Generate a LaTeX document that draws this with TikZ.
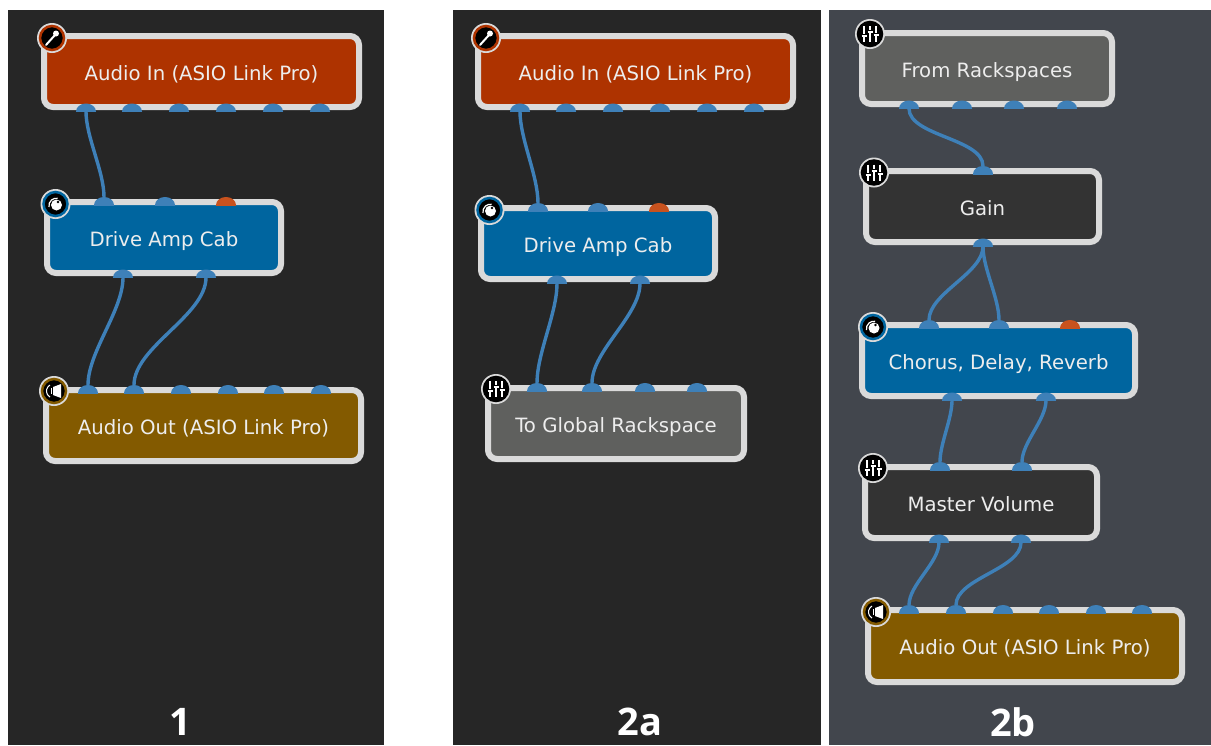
\documentclass[tikz,border=0pt]{standalone}
\usepackage{fontspec}
\setmainfont{DejaVu Sans}
\newfontfamily\labelfont{Open Sans}
\definecolor{panelA}{HTML}{262626}
\definecolor{panelB}{HTML}{42464D}
\definecolor{frameC}{HTML}{DADADA}
\definecolor{portblue}{HTML}{3E80B8}
\definecolor{portorange}{HTML}{C8521E}
\definecolor{inred}{HTML}{AE3300}
\definecolor{fxblue}{HTML}{00659F}
\definecolor{outbrown}{HTML}{835A00}
\definecolor{globalgrey}{HTML}{5F605E}
\definecolor{darkbox}{HTML}{333333}
\definecolor{textC}{HTML}{EDEDED}
\tikzset{
  x=1pt,y=-1pt,
  panel/.style={fill=#1,draw=none},
  plugbox/.style={draw=frameC,line width=6pt,rounded corners=9pt,inner sep=0pt,outer sep=0pt,text=textC,font=\fontsize{19.7}{22}\selectfont},
  wire/.style={draw=portblue,line width=3.4pt},
  port/.style={minimum width=20pt,minimum height=8pt,inner sep=0pt,outer sep=0pt,
    path picture={\fill[#1] (path picture bounding box.south) ellipse [x radius=10pt,y radius=8pt];}},
  panellabel/.style={text=white,font=\labelfont\bfseries\fontsize{38}{40}\selectfont,inner sep=0pt},
  iconbase/.style={circle,fill=black,draw=#1,line width=2.5pt,minimum size=24pt,inner sep=0pt,outer sep=0pt},
}
\usetikzlibrary{calc}
% name, x1, y1, x2, y2, fill, text
\newcommand{\plug}[7]{%
  \pgfmathsetmacro{\bw}{#4-#2-6}\pgfmathsetmacro{\bh}{#5-#3-6}%
  \node[plugbox,fill=#6,minimum width=\bw pt,minimum height=\bh pt] (#1) at ({(#2+#4)/2},{(#3+#5)/2}) {\raisebox{-8.5pt}[0pt][0pt]{#7}};}
% name, x, top y of dome, colour
\newcommand{\plugport}[4]{\node[port=#4] (#1) at (#2,#3+4) {};}
% name, x, y, ring colour: base disc
\newcommand{\iconring}[4]{%
  \node[circle,fill=frameC,minimum size=30pt,inner sep=0pt] (#1o) at (#2,#3) {};
  \node[iconbase=#4] (#1) at (#2,#3) {};}
\newcommand{\micicon}[1]{%
  \draw[white,line width=2pt,line cap=round] ($(#1)+(-6,7)$) -- ($(#1)+(3,-3)$);
  \fill[white] ($(#1)+(4,-4.5)$) circle (3pt);}
\newcommand{\knobicon}[1]{%
  \fill[white] ($(#1)+(1,1)$) circle (5.5pt);
  \fill[black] ($(#1)+(2.5,-2)$) circle (1.3pt);
  \draw[white,line width=1.2pt] ($(#1)+(-6.5,3)$) arc (190:80:7.5pt);}
\newcommand{\slidericon}[1]{%
  \foreach \dx/\dy in {-6/2,0/-2,6/1}{
    \draw[white,line width=1.6pt] ($(#1)+(\dx,-8)$) -- ($(#1)+(\dx,8)$);
    \draw[black,line width=1pt] ($(#1)+(\dx-2.5,\dy-1.5)$) -- ($(#1)+(\dx+2.5,\dy-1.5)$);
    \draw[white,line width=2pt] ($(#1)+(\dx-2.5,\dy)$) -- ($(#1)+(\dx+2.5,\dy)$);
  }}
\newcommand{\speakericon}[1]{%
  \fill[white] ($(#1)+(-1,-4)$) -- ($(#1)+(7,-7)$) -- ($(#1)+(7,7)$) -- ($(#1)+(-1,4)$) -- cycle;
  \draw[white,line width=1pt] ($(#1)+(-4,-6)$) arc (120:240:7pt);
  \draw[white,line width=1pt] ($(#1)+(-3,-3)$) -- ($(#1)+(-3,3)$);}
\begin{document}
\begin{tikzpicture}[looseness=0.75]
\useasboundingbox (0,0) rectangle (1211,745);
\fill[white] (0,0) rectangle (1211,745);
\fill[panel=panelA] (8,10) rectangle (384,745);
\fill[panel=panelA] (453,10) rectangle (821,745);
\fill[panel=panelB] (829,10) rectangle (1211,745);

% ---------- panel 1
\plug{inA}{41}{33}{362}{110}{inred}{Audio In (ASIO Link Pro)}
\plug{drA}{44}{199}{284}{276}{fxblue}{Drive Amp Cab}
\plug{outA}{43}{387}{364}{464}{outbrown}{Audio Out (ASIO Link Pro)}
\plugport{inAa}{86}{103.5}{portblue}
\plugport{inAb}{132}{103.5}{portblue}
\plugport{inAc}{179}{103.5}{portblue}
\plugport{inAd}{226}{103.5}{portblue}
\plugport{inAe}{273}{103.5}{portblue}
\plugport{inAf}{320}{103.5}{portblue}
\plugport{drAa}{104}{197}{portblue}
\plugport{drAb}{165}{197}{portblue}
\plugport{drAc}{226}{197}{portorange}
\plugport{drAx}{123}{269.5}{portblue}
\plugport{drAy}{206}{269.5}{portblue}
\plugport{outAa}{88}{385}{portblue}
\plugport{outAb}{134}{385}{portblue}
\plugport{outAc}{181}{385}{portblue}
\plugport{outAd}{228}{385}{portblue}
\plugport{outAe}{274}{385}{portblue}
\plugport{outAf}{321}{385}{portblue}
\draw[wire] (inAa) to[out=-90,in=90] (drAa);
\draw[wire] (drAx) to[out=-90,in=90] (outAa);
\draw[wire] (drAy) to[out=-90,in=90] (outAb);
\iconring{icA}{52}{38}{inred}\micicon{icA}
\iconring{icB}{55.5}{204}{fxblue}\knobicon{icB}
\iconring{icC}{54}{391}{outbrown}\speakericon{icC}
\node[panellabel] (labA) at (180,722) {1};

% ---------- panel 2a
\plug{inB}{475}{33}{796}{110}{inred}{Audio In (ASIO Link Pro)}
\plug{drB}{478}{205}{718}{282}{fxblue}{Drive Amp Cab}
\plug{toB}{485}{385}{747}{462}{globalgrey}{To Global Rackspace}
\plugport{inBa}{520}{103.5}{portblue}
\plugport{inBb}{566}{103.5}{portblue}
\plugport{inBc}{613}{103.5}{portblue}
\plugport{inBd}{660}{103.5}{portblue}
\plugport{inBe}{707}{103.5}{portblue}
\plugport{inBf}{754}{103.5}{portblue}
\plugport{drBa}{538}{203}{portblue}
\plugport{drBb}{598}{203}{portblue}
\plugport{drBc}{659}{203}{portorange}
\plugport{drBx}{557}{275.5}{portblue}
\plugport{drBy}{640}{275.5}{portblue}
\plugport{toBa}{537}{383}{portblue}
\plugport{toBb}{592}{383}{portblue}
\plugport{toBc}{645}{383}{portblue}
\plugport{toBd}{697}{383}{portblue}
\draw[wire] (inBa) to[out=-90,in=90] (drBa);
\draw[wire] (drBx) to[out=-90,in=90] (toBa);
\draw[wire] (drBy) to[out=-90,in=90] (toBb);
\iconring{icD}{486}{38}{inred}\micicon{icD}
\iconring{icE}{489.5}{210}{fxblue}\knobicon{icE}
\iconring{icF}{496}{389}{black}\slidericon{icF}
\node[panellabel] (labB) at (640,722) {2a};

% ---------- panel 2b
\plug{frC}{859}{30}{1115}{107}{globalgrey}{From Rackspaces}
\plug{gaC}{863}{168}{1102}{245}{darkbox}{Gain}
\plug{chC}{859}{322}{1138}{399}{fxblue}{Chorus, Delay, Reverb}
\plug{maC}{862}{464}{1100}{541}{darkbox}{Master Volume}
\plug{outC}{865}{607}{1185}{685}{outbrown}{Audio Out (ASIO Link Pro)}
\plugport{frCa}{909}{100.5}{portblue}
\plugport{frCb}{962}{100.5}{portblue}
\plugport{frCc}{1014}{100.5}{portblue}
\plugport{frCd}{1067}{100.5}{portblue}
\plugport{gaCa}{983}{166}{portblue}
\plugport{gaCx}{983}{238.5}{portblue}
\plugport{chCa}{929}{320}{portblue}
\plugport{chCb}{999}{320}{portblue}
\plugport{chCc}{1070}{320}{portorange}
\plugport{chCx}{952}{392.5}{portblue}
\plugport{chCy}{1046}{392.5}{portblue}
\plugport{maCa}{940}{462}{portblue}
\plugport{maCb}{1022}{462}{portblue}
\plugport{maCx}{939}{534.5}{portblue}
\plugport{maCy}{1021}{534.5}{portblue}
\plugport{outCa}{909}{605}{portblue}
\plugport{outCb}{956}{605}{portblue}
\plugport{outCc}{1003}{605}{portblue}
\plugport{outCd}{1049}{605}{portblue}
\plugport{outCe}{1096}{605}{portblue}
\plugport{outCf}{1142}{605}{portblue}
\draw[wire] (frCa) to[out=-90,in=90] (gaCa);
\draw[wire] (gaCx) to[out=-90,in=90] (chCa);
\draw[wire] (gaCx) to[out=-90,in=90] (chCb);
\draw[wire] (chCx) to[out=-90,in=90] (maCa);
\draw[wire] (chCy) to[out=-90,in=90] (maCb);
\draw[wire] (maCx) to[out=-90,in=90] (outCa);
\draw[wire] (maCy) to[out=-90,in=90] (outCb);
\iconring{icG}{870}{34}{black}\slidericon{icG}
\iconring{icH}{874}{172.5}{black}\slidericon{icH}
\iconring{icI}{873}{327}{fxblue}\knobicon{icI}
\iconring{icJ}{873}{468}{black}\slidericon{icJ}
\iconring{icK}{876}{612}{outbrown}\speakericon{icK}
\node[panellabel] (labC) at (1013,722) {2b};
\end{tikzpicture}
\end{document}
